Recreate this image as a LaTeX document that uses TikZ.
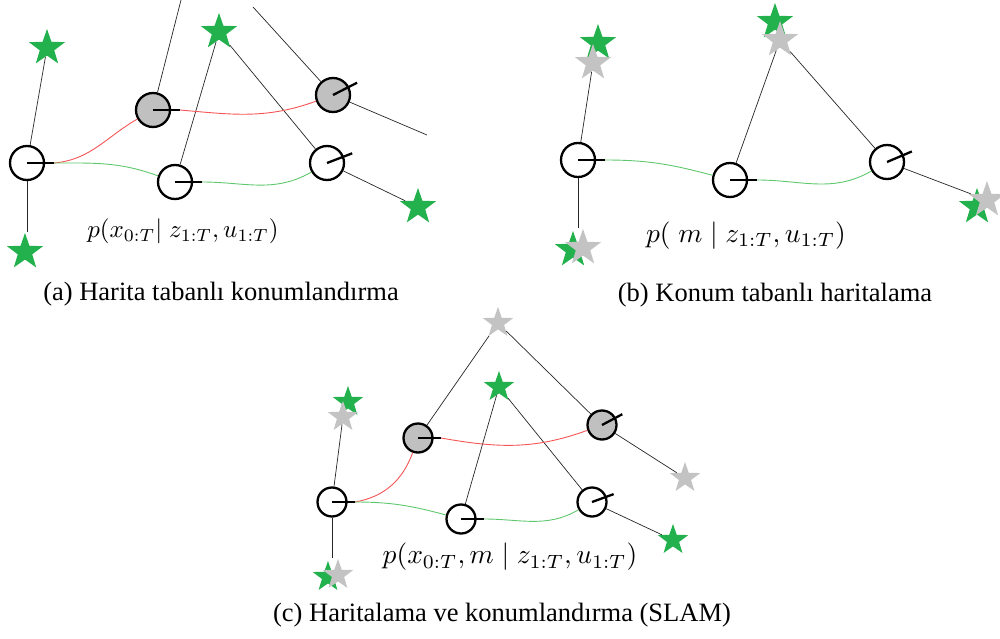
\documentclass[tikz,border=0pt]{standalone}
\usepackage[no-math]{fontspec}
\setmainfont{Liberation Serif}
\usepackage{amsmath}
\usetikzlibrary{calc,shapes.geometric}

\definecolor{lmgreen}{RGB}{34,177,76}
\definecolor{lmgray}{RGB}{195,195,195}
\definecolor{kgray}{RGB}{192,192,192}
\definecolor{odogreen}{RGB}{95,200,110}
\definecolor{estred}{RGB}{245,85,85}

\begin{document}
\begin{tikzpicture}[x=1pt,y=1pt,
    pose/.style={circle,draw,fill=white,line width=2.3pt,minimum size=34pt,inner sep=0pt},
    kpose/.style={pose,fill=kgray},
    small/.style={minimum size=29pt},
    lm/.style={star,star points=5,star point ratio=2.5,minimum size=38pt,inner sep=0pt,fill=lmgreen},
    glm/.style={lm,fill=lmgray},
    obs/.style={line width=0.7pt,black!85},
    heading/.style={line width=2.3pt},
    odo/.style={line width=0.9pt,odogreen},
    est/.style={line width=0.9pt,estred},
    lbl/.style={scale=2.5},
    captxt/.style={font=\fontsize{26.5}{31}\selectfont}]
\useasboundingbox (0,0) rectangle (1000,-639);

% (a) map based localization
\node[lm] (sa1) at (47,-48) {};
\node[lm] (sa2) at (25,-252) {};
\node[lm] (sa3) at (219,-32) {};
\node[lm] (sa4) at (418,-207) {};
\coordinate (fa1) at (181,0);
\coordinate (fa2) at (253,-7);
\coordinate (fa3) at (427,-135);
\node[pose] (a1) at (27,-163) {};
\node[kpose] (a2) at (153,-110) {};
\node[kpose] (a3) at (333,-95) {};
\node[pose] (a4) at (175,-182) {};
\node[pose] (a5) at (327,-163) {};
\draw[obs] (a1) -- (sa1);
\draw[obs] (a1) -- (a1 |- sa2.north);
\draw[obs] (a2) -- (fa1);
\draw[obs] (fa2) -- (a3);
\draw[obs] (a3) -- (fa3);
\draw[obs] (a4) -- (sa3);
\draw[obs] (a5) -- (sa3);
\draw[obs] (a5) -- (sa4);
\foreach \n/\a in {a1/0,a2/0,a3/27,a4/0,a5/21}
    \draw[heading] (\n.center) -- ++(\a:27) coordinate (\n h);
\draw[est] (a1h) to[out=5,in=210] (a2);
\draw[est] (a2h) to[out=-5,in=200] (a3);
\draw[odo] (a1h) to[out=0,in=160] (a4);
\draw[odo] (a4h) to[out=0,in=210] (a5);
\node[lbl] (pa) at (183,-231) {$p(x_{0:T}|\;z_{1:T}, u_{1:T})$};
\node[captxt] (ca) at (221,-294) {(a) Harita tabanlı konumlandırma};

% (b) pose based mapping
\node[lm] (sb1g) at (598,-43) {};
\node[glm] (sb1) at (593,-63) {};
\node[lm] (sb2g) at (573,-250) {};
\node[glm] (sb2) at (583,-248) {};
\node[lm] (sb3g) at (775,-22) {};
\node[glm] (sb3) at (780,-40) {};
\node[lm] (sb4g) at (977,-207) {};
\node[glm] (sb4) at (987,-200) {};
\node[pose] (b1) at (578,-160) {};
\node[pose] (b2) at (730,-180) {};
\node[pose] (b3) at (887,-162) {};
\draw[obs] (b1) -- (sb1);
\draw[obs] (b1) -- (b1 |- sb2.north);
\draw[obs] (b2) -- (sb3);
\draw[obs] (b3) -- (sb3);
\draw[obs] (b3) -- (sb4);
\foreach \n/\a in {b1/0,b2/0,b3/23}
    \draw[heading] (\n.center) -- ++(\a:27) coordinate (\n h);
\draw[odo] (b1h) to[out=0,in=165] (b2);
\draw[odo] (b2h) to[out=0,in=210] (b3);
\node[lbl,scale=1.1] (pb) at (746,-236) {$p(\;m \mid z_{1:T}, u_{1:T})$};
\node[captxt] (cb) at (775,-295) {(b) Konum tabanlı haritalama};

% (c) SLAM
\begin{scope}[lm/.append style={minimum size=32pt}]
\node[lm] (sc1g) at (348,-402) {};
\node[glm] (sc1) at (343,-417) {};
\node[lm] (sc2g) at (328,-577) {};
\node[glm] (sc2) at (338,-575) {};
\node[glm] (sc3) at (498,-323) {};
\node[lm] (sc4) at (499,-387) {};
\node[glm] (sc5) at (685,-478) {};
\node[lm] (sc6) at (673,-540) {};
\end{scope}
\node[pose,small] (c1) at (332,-502) {};
\node[kpose,small] (c2) at (418,-438) {};
\node[kpose,small] (c3) at (602,-425) {};
\node[pose,small] (c4) at (461,-519) {};
\node[pose,small] (c5) at (592,-502) {};
\draw[obs] (c1) -- (sc1);
\draw[obs] (c1) -- (c1 |- sc2.north);
\draw[obs] (c2) -- (sc3);
\draw[obs] (c3) -- (sc3);
\draw[obs] (c3) -- (sc5);
\draw[obs] (c4) -- (sc4);
\draw[obs] (c5) -- (sc4);
\draw[obs] (c5) -- (sc6);
\foreach \n/\a in {c1/0,c2/0,c3/28,c4/0,c5/20}
    \draw[heading] (\n.center) -- ++(\a:23) coordinate (\n h);
\draw[est] (c1h) to[out=10,in=250] (c2);
\draw[est] (c2h) to[out=-10,in=200] (c3);
\draw[odo] (c1h) to[out=0,in=165] (c4);
\draw[odo] (c4h) to[out=0,in=210] (c5);
\node[lbl,scale=1.1] (pc) at (510,-557) {$p(x_{0:T}, m \mid z_{1:T}, u_{1:T})$};
\node[captxt] (cc) at (502,-615) {(c) Haritalama ve konumlandırma (SLAM)};
\end{tikzpicture}
\end{document}
